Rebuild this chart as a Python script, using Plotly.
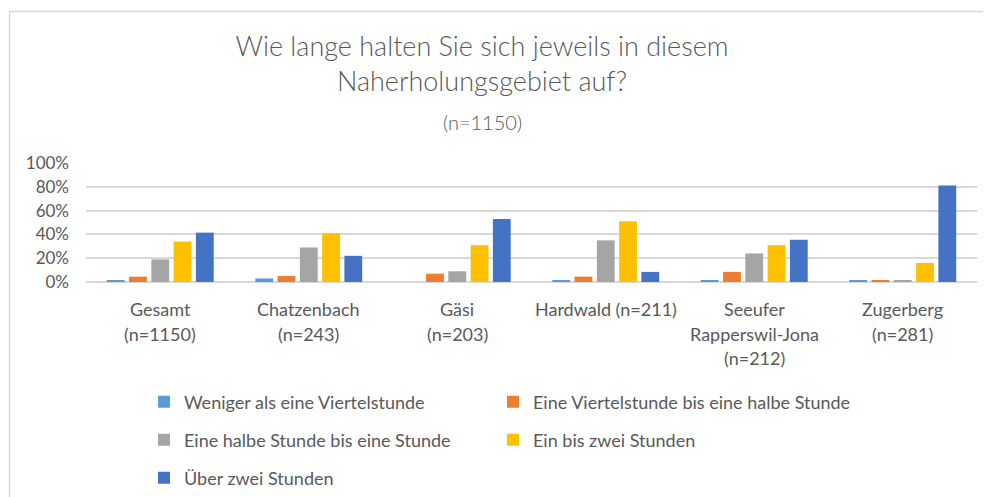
import plotly.graph_objects as go

categories = ["Gesamt", "Chatzenbach", "Gäsi", "Hardwald", "Seeufer", "Zugerberg"]
category_label_lines = [
    ["Gesamt", "(n=1150)"],
    ["Chatzenbach", "(n=243)"],
    ["Gäsi", "(n=203)"],
    ["Hardwald (n=211)"],
    ["Seeufer", "Rapperswil-Jona", "(n=212)"],
    ["Zugerberg", "(n=281)"],
]

series_names = [
    "Weniger als eine Viertelstunde",
    "Eine Viertelstunde bis eine halbe Stunde",
    "Eine halbe Stunde bis eine Stunde",
    "Ein bis zwei Stunden",
    "Über zwei Stunden",
]
weniger_viertel = [0.01, 0.03, 0.00, 0.01, 0.01, 0.01]
viertel_halb = [0.045, 0.05, 0.07, 0.045, 0.085, 0.01]
halb_eine = [0.19, 0.29, 0.09, 0.35, 0.24, 0.01]
ein_zwei = [0.34, 0.41, 0.31, 0.51, 0.31, 0.16]
ueber_zwei = [0.415, 0.22, 0.53, 0.085, 0.355, 0.81]
series_values = [weniger_viertel, viertel_halb, halb_eine, ein_zwei, ueber_zwei]

colors = ["#5B9BD5", "#ED7D31", "#A5A5A5", "#FFC000", "#4472C4"]

title_line1 = "Wie lange halten Sie sich jeweils in diesem"
title_line2 = "Naherholungsgebiet auf?"
title_line3 = "(n=1150)"

W, H = 991, 497
ML, MR, MT, MB = 78, 22, 155, 223
plot_h = H - MT - MB
plot_w = W - ML - MR
FONT = "Lato, Open Sans, sans-serif"
TXT = "#595959"
TITLE_CX = 474  # horizontal centre of the title block, figure px

legend_names = ["legend", "legend2", "legend3", "legend4", "legend5"]
# legend placement in figure px: (left x, center y)
legend_pos = [(136, 394), (485, 394), (136, 432), (485, 432), (136, 470)]

fig = go.Figure()
for name, vals, col, lg in zip(series_names, series_values, colors, legend_names):
    fig.add_trace(go.Bar(
        x=categories, y=vals, name=name,
        marker=dict(color=col, line=dict(width=0)),
        legend=lg, showlegend=True,
    ))

layout_legends = {}
for lg, (lx, ly) in zip(legend_names, legend_pos):
    layout_legends[lg] = dict(
        x=lx / W, y=1 - ly / H, xref="container", yref="container",
        xanchor="left", yanchor="middle", orientation="h",
        font=dict(family=FONT, size=18, color=TXT),
        bgcolor="rgba(0,0,0,0)", borderwidth=0, visible=True,
    )

annotations = []
line_offsets = [27, 52, 76]
for cat, lines in zip(categories, category_label_lines):
    for i, t in enumerate(lines):
        annotations.append(dict(
            x=cat, xref="x", y=0, yref="paper", yshift=-line_offsets[i],
            text=t, showarrow=False, xanchor="center", yanchor="middle",
            font=dict(family=FONT, size=18, color=TXT),
        ))

annotations.append(dict(
    x=(TITLE_CX - ML) / plot_w, xref="paper", y=1 + (MT - 72) / plot_h, yref="paper",
    text=title_line2, showarrow=False, xanchor="center", yanchor="middle",
    font=dict(family=FONT, size=27, color=TXT, weight=300),
))
annotations.append(dict(
    x=(TITLE_CX - ML) / plot_w, xref="paper", y=1 + (MT - 114) / plot_h, yref="paper",
    text=title_line3, showarrow=False, xanchor="center", yanchor="middle",
    font=dict(family=FONT, size=20, color=TXT, weight=300),
))

fig.update_layout(
    width=W, height=H,
    margin=dict(l=ML, r=MR, t=MT, b=MB),
    paper_bgcolor="white", plot_bgcolor="white",
    showlegend=True,
    title=dict(text=title_line1, x=TITLE_CX / W, xref="container", xanchor="center",
               y=1 - 39 / H, yref="container", yanchor="middle",
               font=dict(family=FONT, size=27, color=TXT, weight=300)),
    barmode="group", bargap=0.25, bargroupgap=0.2,
    xaxis=dict(showticklabels=False, showgrid=False, zeroline=False,
               showline=False, ticks=""),
    yaxis=dict(range=[0, 1], dtick=0.2, tickformat=".0%",
               showgrid=True, gridcolor="#D9D9D9", gridwidth=1.5,
               zeroline=True, zerolinecolor="#D9D9D9", zerolinewidth=1.5,
               showline=False, ticks="", ticklabelstandoff=16,
               tickfont=dict(family=FONT, size=17, color=TXT)),
    annotations=annotations,
    shapes=[dict(type="rect", xref="paper", yref="paper",
                 x0=-(ML - 1.5) / plot_w, x1=1 + (MR + 20) / plot_w,
                 y0=-(MB + 20) / plot_h, y1=1 + (MT - 3.5) / plot_h,
                 line=dict(color="#D9D9D9", width=1.5), layer="below")],
    **layout_legends,
)

fig.write_html("out.html")
